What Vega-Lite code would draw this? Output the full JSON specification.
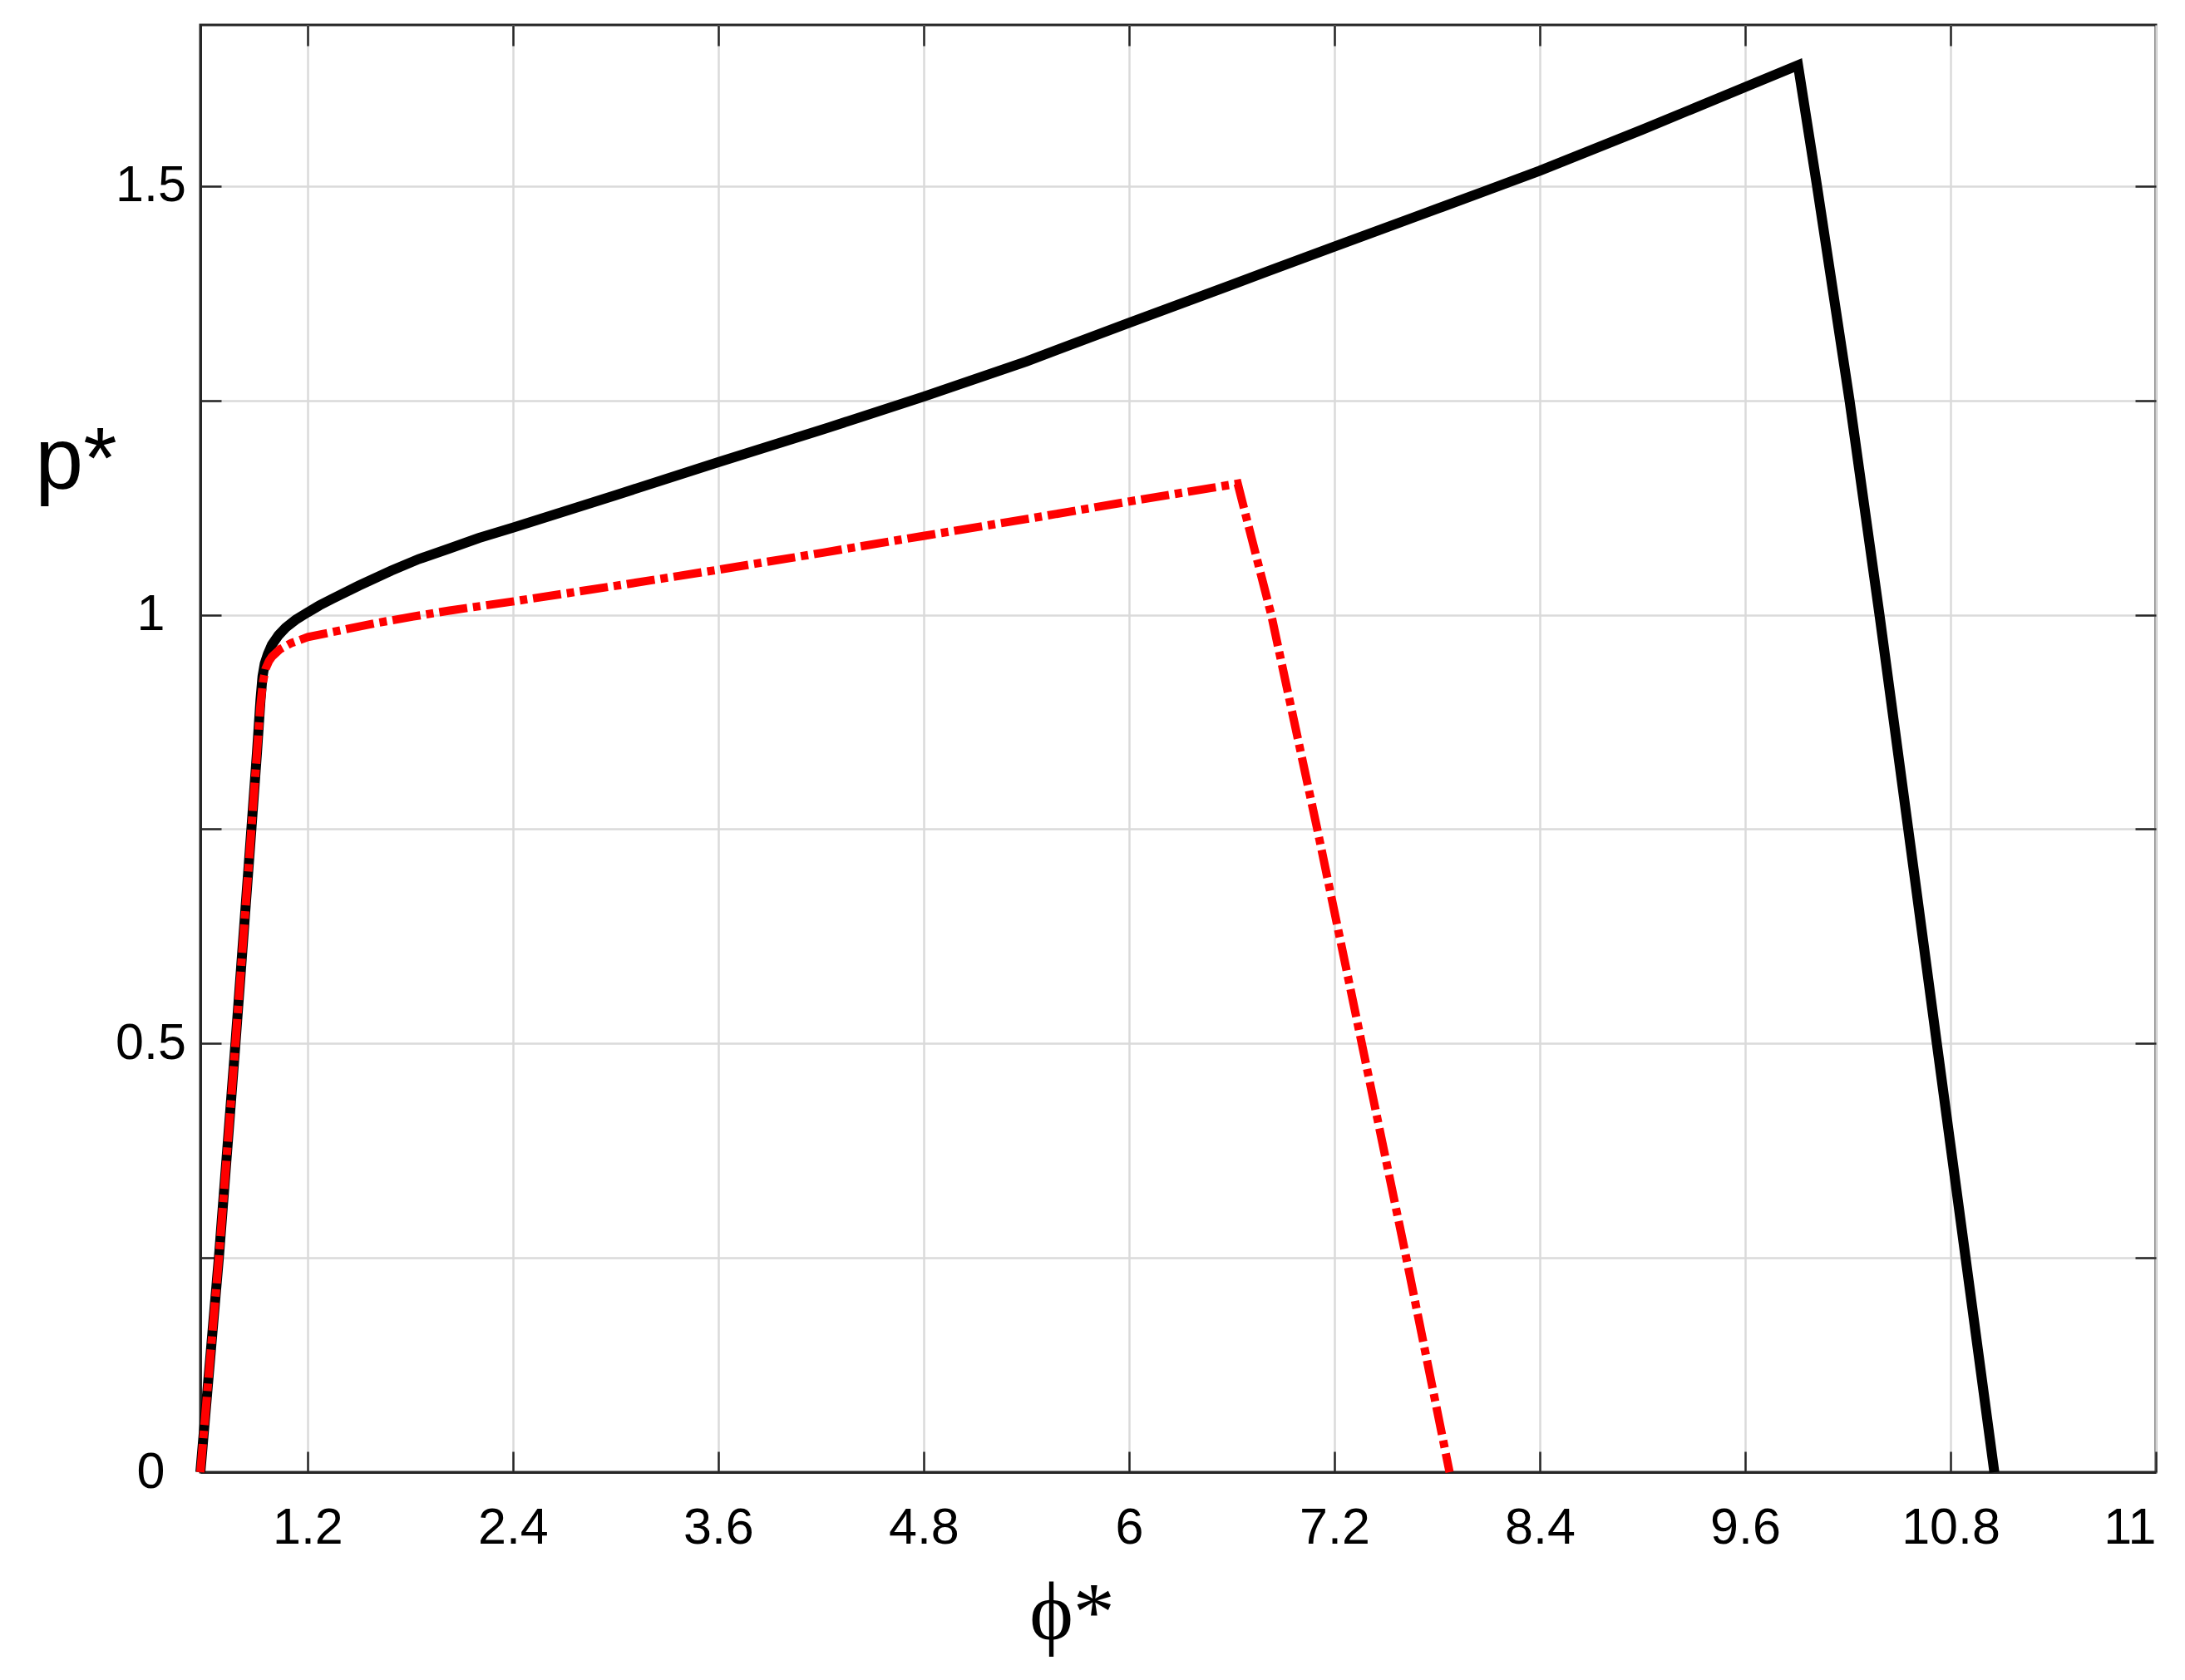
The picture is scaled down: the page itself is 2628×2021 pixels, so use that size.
{
  "$schema": "https://vega.github.io/schema/vega-lite/v6.json",
  "width": 2352,
  "height": 1741,
  "autosize": {"type": "none"},
  "padding": {"left": 241, "top": 30, "right": 35, "bottom": 250},
  "background": "white",
  "config": {
    "view": {"stroke": "#262626", "strokeWidth": 3},
    "axis": {
      "domainColor": "#262626",
      "domainWidth": 3,
      "tickColor": "#262626",
      "tickWidth": 2.5,
      "tickSize": -25,
      "gridColor": "#dadada",
      "gridWidth": 2.5,
      "labelFont": "Liberation Sans",
      "labelFontSize": 61,
      "labelColor": "#000000",
      "titleColor": "#000000",
      "labelOverlap": false
    }
  },
  "datasets": {
    "black": [
      {"phi": 0.574, "p": 0},
      {"phi": 0.682, "p": 0.25},
      {"phi": 0.779, "p": 0.5},
      {"phi": 0.872, "p": 0.75},
      {"phi": 0.905, "p": 0.84},
      {"phi": 0.925, "p": 0.9},
      {"phi": 0.937, "p": 0.928},
      {"phi": 0.95, "p": 0.943},
      {"phi": 0.968, "p": 0.954},
      {"phi": 0.992, "p": 0.965},
      {"phi": 1.03, "p": 0.976},
      {"phi": 1.072, "p": 0.985},
      {"phi": 1.13, "p": 0.994},
      {"phi": 1.202, "p": 1.003},
      {"phi": 1.27, "p": 1.011},
      {"phi": 1.348, "p": 1.019},
      {"phi": 1.5, "p": 1.034},
      {"phi": 1.689, "p": 1.0515},
      {"phi": 1.85, "p": 1.065},
      {"phi": 2.03, "p": 1.0774},
      {"phi": 2.2, "p": 1.0895},
      {"phi": 2.4, "p": 1.1016},
      {"phi": 3.0, "p": 1.1395},
      {"phi": 3.6, "p": 1.178},
      {"phi": 4.2, "p": 1.2155},
      {"phi": 4.8, "p": 1.2545},
      {"phi": 5.4, "p": 1.2955},
      {"phi": 6.0, "p": 1.3405},
      {"phi": 6.6, "p": 1.385},
      {"phi": 7.2, "p": 1.4295},
      {"phi": 7.8, "p": 1.4735},
      {"phi": 8.4, "p": 1.518},
      {"phi": 9.0, "p": 1.566},
      {"phi": 9.6, "p": 1.6155},
      {"phi": 9.909, "p": 1.641},
      {"phi": 10.02, "p": 1.5},
      {"phi": 10.21, "p": 1.25},
      {"phi": 10.385, "p": 1.0},
      {"phi": 10.553, "p": 0.75},
      {"phi": 10.72, "p": 0.5},
      {"phi": 10.888, "p": 0.25},
      {"phi": 11.056, "p": 0}
    ],
    "red": [
      {"phi": 0.574, "p": 0},
      {"phi": 0.682, "p": 0.25},
      {"phi": 0.779, "p": 0.5},
      {"phi": 0.872, "p": 0.75},
      {"phi": 0.905, "p": 0.84},
      {"phi": 0.925, "p": 0.895},
      {"phi": 0.94, "p": 0.922},
      {"phi": 0.955, "p": 0.937},
      {"phi": 0.975, "p": 0.946},
      {"phi": 0.992, "p": 0.951},
      {"phi": 1.04, "p": 0.96},
      {"phi": 1.105, "p": 0.967},
      {"phi": 1.202, "p": 0.974},
      {"phi": 1.348, "p": 0.98},
      {"phi": 1.591, "p": 0.99},
      {"phi": 1.818, "p": 0.998},
      {"phi": 2.03, "p": 1.005},
      {"phi": 2.398, "p": 1.0155},
      {"phi": 3.053, "p": 1.0354},
      {"phi": 3.598, "p": 1.0525},
      {"phi": 4.212, "p": 1.0725},
      {"phi": 4.798, "p": 1.092},
      {"phi": 5.439, "p": 1.113},
      {"phi": 6.005, "p": 1.1323},
      {"phi": 6.635, "p": 1.153},
      {"phi": 6.831, "p": 1.0},
      {"phi": 7.1, "p": 0.75},
      {"phi": 7.36, "p": 0.5},
      {"phi": 7.62, "p": 0.25},
      {"phi": 7.873, "p": 0}
    ]
  },
  "layer": [
    {
      "data": {"name": "black"},
      "mark": {"type": "line", "color": "#000000", "strokeWidth": 12, "strokeJoin": "miter"},
      "encoding": {
        "x": {
          "field": "phi", "type": "quantitative",
          "scale": {"domain": [0.574, 12], "nice": false, "zero": false},
          "axis": {
            "orient": "bottom",
            "values": [1.2, 2.4, 3.6, 4.8, 6, 7.2, 8.4, 9.6, 10.8, 12],
            "labelExpr": "datum.value > 11.9 ? '11' : format(datum.value, '~g')",
            "labelPadding": 62,
            "labelDx": 10,
            "grid": true,
            "title": "ϕ*",
            "titleFont": "Liberation Serif, DejaVu Serif",
            "titleFontSize": 100,
            "titleFontWeight": "normal",
            "titleX": 1048,
            "titleY": 200,
            "titleAlign": "center",
            "titleBaseline": "alphabetic"
          }
        },
        "y": {
          "field": "p", "type": "quantitative",
          "scale": {"domain": [0, 1.688], "nice": false, "zero": false},
          "axis": {
            "orient": "left",
            "values": [0, 0.25, 0.5, 0.75, 1, 1.25, 1.5],
            "labelExpr": "datum.value % 0.5 == 0 ? format(datum.value, '~g') : ''",
            "labelAlign": "center",
            "labelBaseline": "middle",
            "labelPadding": 85,
            "grid": true,
            "title": "p*",
            "titleFont": "Liberation Sans",
            "titleFontSize": 104,
            "titleFontWeight": "normal",
            "titleAngle": 0,
            "titleX": -150,
            "titleY": 556,
            "titleAlign": "center",
            "titleBaseline": "alphabetic"
          }
        }
      }
    },
    {
      "data": {"name": "red"},
      "mark": {"type": "line", "color": "#ff0000", "strokeWidth": 10, "strokeDash": [34, 7, 9, 7]},
      "encoding": {
        "x": {
          "field": "phi", "type": "quantitative",
          "scale": {"domain": [0.574, 12], "nice": false, "zero": false},
          "axis": {
            "orient": "top",
            "values": [1.2, 2.4, 3.6, 4.8, 6, 7.2, 8.4, 9.6, 10.8],
            "labels": false,
            "grid": false,
            "domain": false,
            "title": null
          }
        },
        "y": {
          "field": "p", "type": "quantitative",
          "scale": {"domain": [0, 1.688], "nice": false, "zero": false},
          "axis": {
            "orient": "right",
            "values": [0.25, 0.5, 0.75, 1, 1.25, 1.5],
            "labels": false,
            "grid": false,
            "domain": false,
            "title": null
          }
        }
      }
    }
  ],
  "resolve": {"axis": {"x": "independent", "y": "independent"}}
}
